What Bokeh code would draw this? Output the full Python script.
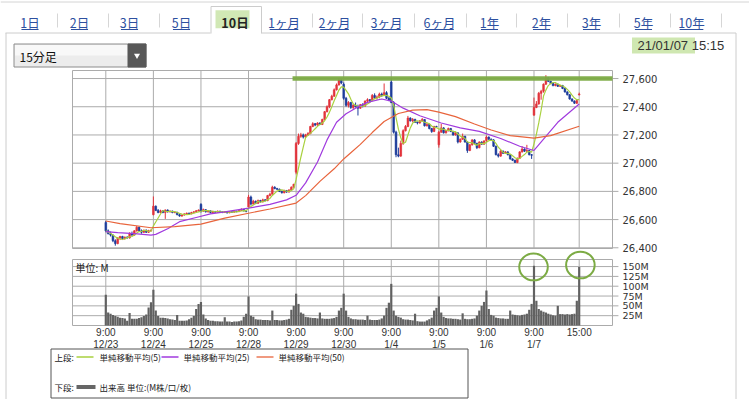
import numpy as np
import pandas as pd
from bokeh.plotting import figure
from bokeh.models import Range1d, ColumnDataSource
from bokeh.core.properties import value
from bokeh.embed import file_html
from bokeh.resources import INLINE

# ------------------------------------------------------------------ data
sessions = ["12/23", "12/24", "12/25", "12/28", "12/29", "12/30", "1/4", "1/5", "1/6", "1/7"]
session_time = "9:00"
final_time = "15:00"
bars_per_session = 20

open_ = [
    26580, 26520, 26500, 26490, 26450, 26430, 26470, 26480, 26465, 26475, 26470, 26500, 26490, 26520, 26545, 26520, 26510, 26525, 26510, 26520,
    26635, 26695, 26665, 26650, 26662, 26650, 26668, 26655, 26660, 26650, 26652, 26635, 26625, 26632, 26640, 26645, 26640, 26650, 26655, 26662,
    26708, 26660, 26670, 26655, 26662, 26650, 26658, 26652, 26660, 26655, 26650, 26656, 26648, 26655, 26652, 26660, 26656, 26665, 26672, 26662,
    26690, 26760, 26710, 26730, 26715, 26735, 26725, 26740, 26735, 26770, 26780, 26830, 26820, 26815, 26800, 26790, 26805, 26795, 26810, 26830,
    26936, 27140, 27190, 27200, 27185, 27200, 27210, 27260, 27280, 27270, 27285, 27275, 27310, 27365, 27400, 27450, 27475, 27520, 27555, 27590,
    27559, 27460, 27410, 27430, 27395, 27410, 27400, 27390, 27415, 27405, 27440, 27450, 27445, 27480, 27465, 27470, 27490, 27480, 27500, 27460,
    27575, 27430, 27220, 27060, 27050, 27140, 27230, 27260, 27320, 27300, 27310, 27290, 27285, 27300, 27310, 27265, 27275, 27245, 27225, 27260,
    27130, 27220, 27250, 27215, 27230, 27245, 27225, 27200, 27215, 27150, 27170, 27190, 27150, 27090, 27130, 27165, 27140, 27110, 27150, 27135,
    27160, 27185, 27170, 27165, 27120, 27060, 27050, 27085, 27070, 27080, 27060, 27030, 27020, 27005, 27035, 27080, 27100, 27085, 27090, 27060,
    27340, 27395, 27420, 27495, 27510, 27560, 27605, 27580, 27565, 27550, 27560, 27545, 27550, 27530, 27505, 27485, 27455, 27440, 27425, 27485,
]
high = [
    26590, 26530, 26515, 26495, 26460, 26475, 26485, 26485, 26480, 26482, 26510, 26515, 26525, 26555, 26550, 26530, 26528, 26530, 26528, 26530,
    26764, 26700, 26675, 26670, 26668, 26672, 26672, 26665, 26664, 26658, 26655, 26640, 26636, 26645, 26650, 26650, 26655, 26660, 26668, 26672,
    26716, 26678, 26674, 26666, 26665, 26662, 26660, 26664, 26662, 26658, 26660, 26658, 26658, 26657, 26664, 26662, 26668, 26680, 26675, 26665,
    26775, 26770, 26740, 26735, 26742, 26740, 26748, 26745, 26775, 26790, 26840, 26836, 26825, 26820, 26805, 26812, 26810, 26815, 26835, 26854,
    27150, 27210, 27215, 27210, 27208, 27220, 27265, 27290, 27285, 27290, 27290, 27315, 27370, 27410, 27455, 27485, 27530, 27565, 27602, 27595,
    27572, 27470, 27440, 27435, 27420, 27430, 27415, 27420, 27425, 27445, 27460, 27455, 27490, 27495, 27480, 27500, 27500, 27565, 27510, 27470,
    27602, 27440, 27230, 27110, 27160, 27240, 27270, 27335, 27325, 27320, 27315, 27295, 27305, 27320, 27312, 27285, 27280, 27250, 27265, 27265,
    27230, 27279, 27255, 27235, 27252, 27250, 27230, 27220, 27218, 27175, 27210, 27195, 27155, 27135, 27170, 27170, 27145, 27155, 27155, 27162,
    27196, 27190, 27175, 27170, 27125, 27070, 27095, 27090, 27085, 27085, 27065, 27035, 27025, 27040, 27085, 27120, 27105, 27130, 27095, 27065,
    27465, 27440, 27505, 27520, 27565, 27624, 27610, 27585, 27570, 27565, 27565, 27555, 27555, 27535, 27510, 27490, 27460, 27445, 27450, 27500,
]
low = [
    26510, 26495, 26480, 26440, 26415, 26425, 26455, 26455, 26458, 26465, 26465, 26485, 26485, 26515, 26515, 26500, 26505, 26505, 26505, 26515,
    26630, 26660, 26645, 26645, 26645, 26605, 26650, 26650, 26645, 26645, 26630, 26620, 26620, 26628, 26635, 26636, 26638, 26645, 26650, 26658,
    26650, 26655, 26650, 26650, 26645, 26647, 26648, 26650, 26650, 26646, 26647, 26643, 26645, 26648, 26650, 26652, 26654, 26662, 26658, 26652,
    26683, 26700, 26705, 26710, 26712, 26720, 26722, 26730, 26730, 26765, 26775, 26815, 26810, 26795, 26785, 26786, 26790, 26792, 26805, 26825,
    26921, 27130, 27180, 27175, 27180, 27195, 27205, 27255, 27262, 27265, 27270, 27270, 27305, 27360, 27390, 27445, 27470, 27515, 27550, 27560,
    27450, 27400, 27395, 27385, 27380, 27395, 27338, 27385, 27395, 27400, 27425, 27430, 27440, 27455, 27450, 27460, 27470, 27475, 27455, 27440,
    27425, 27210, 27042, 27042, 27045, 27130, 27225, 27255, 27295, 27290, 27285, 27275, 27280, 27295, 27260, 27260, 27240, 27215, 27220, 27250,
    27110, 27215, 27210, 27210, 27225, 27220, 27195, 27195, 27140, 27145, 27165, 27145, 27073, 27085, 27125, 27135, 27100, 27105, 27130, 27130,
    27150, 27165, 27160, 27115, 27055, 27040, 27045, 27065, 27065, 27055, 27025, 27015, 27002, 27000, 27030, 27075, 27080, 27080, 27055, 27030,
    27338, 27390, 27415, 27450, 27500, 27555, 27575, 27560, 27545, 27545, 27540, 27540, 27525, 27500, 27480, 27450, 27435, 27420, 27420, 27480,
]
close = [
    26520, 26500, 26490, 26450, 26430, 26470, 26480, 26465, 26475, 26470, 26500, 26490, 26520, 26545, 26520, 26510, 26525, 26510, 26520, 26525,
    26695, 26665, 26650, 26662, 26650, 26668, 26655, 26660, 26650, 26652, 26635, 26625, 26632, 26640, 26645, 26640, 26650, 26655, 26662, 26668,
    26660, 26670, 26655, 26662, 26650, 26658, 26652, 26660, 26655, 26650, 26656, 26648, 26655, 26652, 26660, 26656, 26665, 26672, 26662, 26657,
    26760, 26710, 26730, 26715, 26735, 26725, 26740, 26735, 26770, 26780, 26830, 26820, 26815, 26800, 26790, 26805, 26795, 26810, 26830, 26850,
    27140, 27190, 27200, 27185, 27200, 27210, 27260, 27280, 27270, 27285, 27275, 27310, 27365, 27400, 27450, 27475, 27520, 27555, 27590, 27568,
    27460, 27410, 27430, 27395, 27410, 27400, 27390, 27415, 27405, 27440, 27450, 27445, 27480, 27465, 27470, 27490, 27480, 27500, 27460, 27444,
    27430, 27220, 27060, 27050, 27140, 27230, 27260, 27320, 27300, 27310, 27290, 27285, 27300, 27310, 27265, 27275, 27245, 27225, 27260, 27258,
    27220, 27250, 27215, 27230, 27245, 27225, 27200, 27215, 27150, 27170, 27190, 27150, 27090, 27130, 27165, 27140, 27110, 27150, 27135, 27158,
    27185, 27170, 27165, 27120, 27060, 27050, 27085, 27070, 27080, 27060, 27030, 27020, 27005, 27035, 27080, 27100, 27085, 27090, 27060, 27056,
    27395, 27420, 27495, 27510, 27560, 27605, 27580, 27565, 27550, 27560, 27545, 27550, 27530, 27505, 27485, 27455, 27440, 27425, 27445, 27490,
]
volume_m = [
    78, 33, 30, 27, 24, 22, 20, 19, 18, 12, 32, 17, 17, 17, 19, 21, 24, 28, 46, 59,
    91, 38, 24, 20, 20, 19, 18, 16, 15, 14, 27, 12, 12, 12, 13, 16, 20, 24, 42, 55,
    60, 28, 18, 14, 12, 12, 11, 11, 10, 10, 21, 10, 10, 9, 10, 10, 11, 13, 22, 30,
    74, 25, 22, 16, 15, 15, 14, 14, 14, 13, 38, 14, 14, 13, 13, 14, 15, 17, 40, 50,
    81, 55, 33, 30, 22, 21, 20, 19, 19, 18, 33, 18, 17, 17, 17, 18, 19, 22, 38, 45,
    81, 38, 22, 18, 16, 16, 15, 15, 15, 14, 25, 15, 14, 14, 14, 15, 18, 25, 45, 58,
    106, 38, 25, 22, 20, 16, 15, 15, 14, 13, 30, 11, 10, 10, 10, 13, 16, 20, 38, 45,
    74, 33, 22, 19, 18, 18, 17, 17, 16, 15, 31, 17, 16, 16, 17, 18, 25, 38, 50, 60,
    89, 42, 27, 25, 20, 19, 18, 18, 17, 17, 38, 28, 27, 26, 25, 27, 28, 30, 40, 55,
    152, 63, 42, 38, 35, 33, 30, 28, 26, 25, 50, 29, 29, 28, 29, 28, 29, 30, 63, 149,
]

# moving averages (bar index, value)
ma25_bar = [0, 5, 12, 19, 21, 26, 31, 38, 44, 50, 60, 69, 76, 80, 84, 89, 93, 97, 101, 105, 110, 116,
            120, 125, 132, 141, 149, 157, 166, 174, 180, 185, 190, 199]
ma25_val = [26515, 26508, 26500, 26490, 26495, 26535, 26585, 26615, 26640, 26655, 26681, 26708, 26740,
            26772, 26860, 27008, 27165, 27290, 27350, 27390, 27431, 27455, 27440, 27390, 27336, 27285,
            27250, 27225, 27175, 27120, 27090, 27190, 27290, 27420]
ma50_bar = [0, 6, 19, 29, 40, 50, 60, 69, 80, 84, 90, 96, 100, 103, 107, 112, 117, 123, 129, 135,
            140, 147, 155, 162, 170, 180, 187, 199]
ma50_val = [26590, 26572, 26542, 26550, 26568, 26610, 26645, 26675, 26717, 26770, 26871, 26960, 27030,
            27074, 27133, 27217, 27295, 27352, 27376, 27380, 27362, 27330, 27278, 27235, 27195, 27178,
            27195, 27262]

price_ticks = [26400, 26600, 26800, 27000, 27200, 27400, 27600]
volume_ticks = [25, 50, 75, 100, 125, 150]
price_limits = (26395, 27657)
volume_limits = (0, 168)
bar_limits = (-14, 213)

marked_level = 27600
marked_from_bar = 78.5
circled_bars = [179.8, 199.5]
circled_vol = [149, 154]

tabs = ["1日", "2日", "3日", "5日", "10日", "1ヶ月", "2ヶ月", "3ヶ月", "6ヶ月", "1年", "2年", "3年", "5年", "10年"]
selected_tab = "10日"
interval_label = "15分足"
timestamp_date = "21/01/07"
timestamp_time = "15:15"
legend_labels = ["単純移動平均(5)", "単純移動平均(25)", "単純移動平均(50)"]
volume_legend = "出来高 単位:(M株/口/枚)"
volume_unit = "単位: M"

# ------------------------------------------------------------------ layout (page pixels)
W, H = 749, 399
LEFT, TOP = 0, 0
FR_L, FR_R = 72, 612
PR_T, PR_B = 70, 248
VO_T, VO_B = 259, 325
tab_centers = [29.5, 79, 129, 181, 234.5, 283.5, 334, 386, 439, 489, 541, 591, 643, 691]
tab_separators = [57, 108, 159, 312, 362, 414, 466, 516, 567, 619, 670, 721]

UP, DOWN = "#e2333b", "#1d3c9b"
C_MA5, C_MA25, C_MA50 = "#a9d13f", "#a03ade", "#e8643c"
GRID = "#ababab"
VOLC = "#616161"
MARK = "#7cab44"
HILITE = "#cfe7b1"
LINK = "#2d509f"
TXT = "#333333"

CJK = value("Noto Sans CJK JP")
NUM = value("DejaVu Sans")
SANS = value("Liberation Sans")

p = figure(width=W, height=H, title=None, output_backend="svg", toolbar_location=None,
           x_range=Range1d(LEFT, LEFT + W), y_range=Range1d(TOP + H, TOP),
           x_axis_location=None, y_axis_location=None, min_border=0,
           outline_line_color=None, background_fill_color="white", border_fill_color="white")
p.grid.grid_line_color = None


def lin_range(v_a, px_a, v_b, px_b, px_start, px_end):
    k = (v_b - v_a) / (px_b - px_a)
    return Range1d(v_a + (px_start - px_a) * k, v_a + (px_end - px_a) * k)


p.extra_x_ranges = {"bar": lin_range(bar_limits[0], FR_L, bar_limits[1], FR_R, LEFT, LEFT + W)}
p.extra_y_ranges = {
    "price": lin_range(price_limits[0], PR_B, price_limits[1], PR_T, TOP + H, TOP),
    "vol": lin_range(volume_limits[0], VO_B, volume_limits[1], VO_T, TOP + H, TOP),
}
PB = dict(x_range_name="bar", y_range_name="price")
VB = dict(x_range_name="bar", y_range_name="vol")

# ------------------------------------------------------------------ header
p.segment(x0=[0], x1=[749], y0=[1.5], y1=[1.5], line_color="#d4d4d4", line_width=1)
# panel border
p.segment(x0=[5, 261, 735.5, 5.5], x1=[210, 735.5, 735.5, 5.5], y0=[32.5, 32.5, 32.5, 32.5],
          y1=[32.5, 32.5, 400, 400], line_color="#cccccc", line_width=1)
# selected tab
p.quad(left=[210.5], right=[261], top=[6], bottom=[33], fill_color="white", line_color=None)
p.line(x=[210.5, 210.5, 261, 261], y=[33, 6, 6, 33], line_color="#cccccc", line_width=1)
p.rect(x=[232], y=[18.8], width=34, height=18, fill_color=HILITE, line_color=None, fill_alpha=0.95)
p.segment(x0=tab_separators, x1=tab_separators, y0=13, y1=27, line_color="#d6d6d6", line_width=1)

others = [(t, c) for t, c in zip(tabs, tab_centers) if t != selected_tab]
sel_c = [c for t, c in zip(tabs, tab_centers) if t == selected_tab]
p.text(x=[c for _, c in others], y=22, text=[t for t, _ in others], text_align="center",
       text_baseline="middle", text_font=CJK, text_font_size="12.5px", text_color=LINK)
p.text(x=sel_c, y=21.5, text=[selected_tab], text_align="center", text_baseline="middle",
       text_font=CJK, text_font_size="12.5px", text_color="#222222", text_font_style="bold")


def ink_w(t):
    return sum(6.6 if ch.isdigit() else 11.5 for ch in t) - 1


p.segment(x0=[c - ink_w(t) / 2 for t, c in others], x1=[c + ink_w(t) / 2 for t, c in others],
          y0=29, y1=29, line_color=LINK, line_width=1)

# dropdown
p.quad(left=[13.5], right=[145.5], top=[43.5], bottom=[66.5], fill_color="#ececec", line_color="#8c8c8c")
p.quad(left=[14.5], right=[127], top=[44.5], bottom=[55], fill_color="#f8f8f8", line_color=None)
p.quad(left=[127.5], right=[145.5], top=[43.5], bottom=[66.5], fill_color="#585858", line_color="#585858")
p.scatter(x=[136.5], y=[55], marker="inverted_triangle", size=6, fill_color="white", line_color=None)
p.text(x=[19], y=[55.5], text=[interval_label], text_baseline="middle", text_font=CJK,
       text_font_size="12px", text_color="#111111")

# timestamp
p.rect(x=[663], y=[45], width=63, height=16, fill_color=HILITE, line_color=None)
p.text(x=[637], y=[44.5], text=[f"{timestamp_date} {timestamp_time}"], text_baseline="middle",
       text_font=SANS, text_font_size="13px", text_color=TXT)

# ------------------------------------------------------------------ data frame
n = len(close)
df = pd.DataFrame({"i": np.arange(n), "o": open_, "h": high, "l": low, "c": close, "v": volume_m})
df["top"] = df[["o", "c"]].max(axis=1)
df["bot"] = df[["o", "c"]].min(axis=1)
df["col"] = np.where(df["c"] >= df["o"], UP, DOWN)
df["ma5"] = df["c"].rolling(5, min_periods=1).mean()
src = ColumnDataSource(df)

grid_bars = [k * bars_per_session for k in range(len(sessions))] + [n - 1]
tick_len = 2.5
label_off = 4.2

# ------------------------------------------------------------------ price panel
p.quad(left=[bar_limits[0]], right=[bar_limits[1]], bottom=[price_limits[0]], top=[price_limits[1]],
       fill_color="white", line_color=GRID, line_width=1, **PB)
p.segment(x0=bar_limits[0], x1=bar_limits[1] + tick_len, y0=price_ticks, y1=price_ticks,
          line_color=GRID, line_width=1, **PB)
p.segment(x0=grid_bars, x1=grid_bars, y0=price_limits[0], y1=price_limits[1],
          line_color=GRID, line_width=1, **PB)
p.text(x=bar_limits[1] + label_off, y=price_ticks, text=[f"{t:,}" for t in price_ticks],
       text_baseline="middle", text_font=NUM, text_font_size="10px", text_color=TXT, **PB)

p.segment(x0="i", x1="i", y0="l", y1="h", line_color="col", line_width=1, source=src, **PB)
p.vbar(x="i", width=0.72, top="top", bottom="bot", fill_color="col", line_color="col",
       line_width=0.6, source=src, **PB)

p.line(x="i", y="ma5", line_color=C_MA5, line_width=1.2, source=src, **PB)
p.line(x=ma25_bar, y=ma25_val, line_color=C_MA25, line_width=1.2, **PB)
p.line(x=ma50_bar, y=ma50_val, line_color=C_MA50, line_width=1.2, **PB)

p.segment(x0=[marked_from_bar], x1=[bar_limits[1]], y0=[marked_level], y1=[marked_level],
          line_color=MARK, line_width=4.5, line_alpha=0.95, **PB)

# ------------------------------------------------------------------ volume panel
p.quad(left=[bar_limits[0]], right=[bar_limits[1]], bottom=[volume_limits[0]], top=[volume_limits[1]],
       fill_color="white", line_color=GRID, line_width=1, **VB)
p.segment(x0=bar_limits[0], x1=bar_limits[1] + tick_len, y0=volume_ticks, y1=volume_ticks,
          line_color=GRID, line_width=1, **VB)
p.segment(x0=grid_bars, x1=grid_bars, y0=volume_limits[0], y1=volume_limits[1],
          line_color=GRID, line_width=1, **VB)
p.vbar(x="i", width=0.92, top="v", bottom=0, fill_color=VOLC, line_color=None, source=src, **VB)
p.text(x=bar_limits[1] + label_off, y=volume_ticks, text=[f"{t}M" for t in volume_ticks],
       text_baseline="middle", text_font=NUM, text_font_size="9.5px", text_color=TXT, **VB)
p.text(x=[bar_limits[0] + 1.3], y=[148], text=[volume_unit], text_baseline="middle",
       text_font=CJK, text_font_size="10px", text_color="#222222", **VB)
p.ellipse(x=circled_bars, y=circled_vol, width=12, height=68, fill_color=None,
          line_color=MARK, line_width=2, **VB)

# ------------------------------------------------------------------ legend
p.quad(left=[50.5], right=[467.5], top=[348.5], bottom=[397.5], fill_color="white", line_color="#555555")
r1, r2 = 356.5, 386.5
p.text(x=[54, 54], y=[r1, r2], text=["上段:", "下段:"], text_baseline="middle", text_font=CJK,
       text_font_size="8.5px", text_color="#222222")
p.segment(x0=[76, 161, 256], x1=[93, 178, 273], y0=r1, y1=r1,
          line_color=[C_MA5, C_MA25, C_MA50], line_width=1.3)
p.text(x=[99, 183, 278], y=r1, text=legend_labels, text_baseline="middle", text_font=CJK,
       text_font_size="8.5px", text_color="#222222")
p.segment(x0=[76], x1=[95], y0=[r2], y1=[r2], line_color="#666666", line_width=4)
p.text(x=[99], y=[r2], text=[volume_legend], text_baseline="middle", text_font=CJK,
       text_font_size="8.5px", text_color="#222222")

# ------------------------------------------------------------------ time axis labels
p.text(x=grid_bars, y=331.5, text=[session_time] * len(sessions) + [final_time], text_align="center",
       text_baseline="middle", text_font=SANS, text_font_size="10px", text_color=TXT,
       x_range_name="bar")
p.text(x=grid_bars[:-1], y=343.5, text=sessions, text_align="center",
       text_baseline="middle", text_font=SANS, text_font_size="10px", text_color=TXT,
       x_range_name="bar")

open("out.html", "w").write(file_html(p, INLINE))
